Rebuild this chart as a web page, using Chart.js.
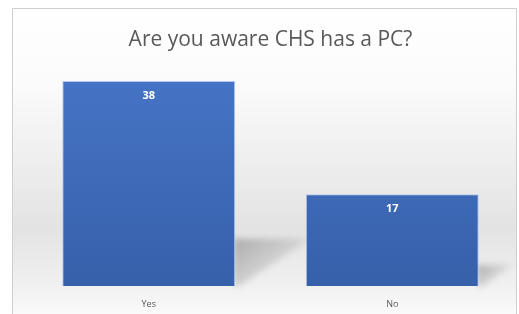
<!DOCTYPE html>
<html>
<head>
<meta charset="utf-8">
<script src="https://cdn.jsdelivr.net/npm/chart.js@4.4.0/dist/chart.umd.min.js"></script>
<style>
  html, body { margin: 0; padding: 0; background: #fff; }
  #wrap { width: 519px; height: 314px; }
</style>
</head>
<body>
<div id="wrap"><canvas id="chart"></canvas></div>
<script>
// survey answers
const answers = ["Yes", "No"];
const counts  = [38, 17];
const chartTitle = "Are you aware CHS has a PC?";

// framed panel with soft grey gradient, like the Excel chart area
const panelBg = {
    id: "panelBg",
    beforeDraw(chart) {
        const ctx = chart.ctx;
        const h = chart.height;
        ctx.save();
        ctx.fillStyle = "#fff";
        ctx.fillRect(0, 0, chart.width, h);
        const g = ctx.createLinearGradient(0, 8, 0, h);
        g.addColorStop(0, "#ffffff");
        g.addColorStop(0.25, "#fbfbfb");
        g.addColorStop(0.72, "#e3e3e3");
        g.addColorStop(0.9, "#f0f0f0");
        g.addColorStop(1, "#fafafa");
        ctx.fillStyle = g;
        ctx.fillRect(12, 8, chart.width - 15, h - 8);
        ctx.strokeStyle = "#cfcfcf";
        ctx.lineWidth = 1;
        ctx.beginPath();
        ctx.moveTo(12.5, h);
        ctx.lineTo(12.5, 8.5);
        ctx.lineTo(chart.width - 2.5, 8.5);
        ctx.lineTo(chart.width - 2.5, h);
        ctx.stroke();
        ctx.restore();
    }
};

// perspective shadow cast to the right of each bar
const barShadow = {
    id: "barShadow",
    beforeDatasetsDraw(chart) {
        const ctx = chart.ctx;
        chart.getDatasetMeta(0).data.forEach(bar => {
            const right = bar.x + bar.width / 2;
            const sh = (bar.base - bar.y) * 0.23;
            ctx.save();
            ctx.filter = "blur(3px)";
            const g = ctx.createLinearGradient(right, bar.base - sh, right + sh, bar.base);
            g.addColorStop(0, "rgba(90,90,90,0.4)");
            g.addColorStop(1, "rgba(90,90,90,0.05)");
            ctx.fillStyle = g;
            ctx.beginPath();
            ctx.moveTo(right - 2, bar.base - sh);
            ctx.lineTo(right + sh * 1.6, bar.base - sh);
            ctx.lineTo(right + 4, bar.base);
            ctx.lineTo(right - 2, bar.base);
            ctx.closePath();
            ctx.fill();
            ctx.restore();
        });
    }
};

// white value labels just inside the top of each bar
const valueLabels = {
    id: "valueLabels",
    afterDatasetsDraw(chart) {
        const ctx = chart.ctx;
        const ds = chart.data.datasets[0];
        ctx.save();
        ctx.fillStyle = "#ffffff";
        ctx.font = "bold 11px 'Open Sans'";
        ctx.textAlign = "center";
        ctx.textBaseline = "middle";
        chart.getDatasetMeta(0).data.forEach((bar, i) => {
            ctx.fillText(ds.data[i], bar.x, bar.y + 15);
        });
        ctx.restore();
    }
};

new Chart(document.getElementById("chart"), {
    type: "bar",
    data: {
        labels: answers,
        datasets: [{
            data: counts,
            backgroundColor: ctx => {
                const area = ctx.chart.chartArea;
                if (!area) return "#4472c4";
                const g = ctx.chart.ctx.createLinearGradient(0, area.top, 0, area.bottom);
                g.addColorStop(0, "#4674c6");
                g.addColorStop(1, "#3760aa");
                return g;
            },
            borderColor: "rgba(170,195,235,0.9)",
            borderWidth: 1,
            barPercentage: 0.71,
            categoryPercentage: 1.0
        }]
    },
    options: {
        responsive: true,
        maintainAspectRatio: false,
        animation: false,
        layout: { padding: { left: 27, right: 5, top: 0, bottom: 0 } },
        plugins: {
            legend: { display: false },
            tooltip: { enabled: false },
            title: {
                display: true,
                text: chartTitle,
                color: "#595959",
                font: { family: "'Open Sans'", size: 21, weight: "normal" },
                padding: { top: 27, bottom: 18 }
            }
        },
        scales: {
            x: {
                grid: { display: false, drawTicks: false },
                border: { display: false },
                ticks: {
                    color: "#595959",
                    font: { family: "'Open Sans'", size: 9 },
                    padding: 13
                },
                afterFit: scale => { scale.height = 28; }
            },
            y: {
                display: false,
                min: 0,
                max: 40
            }
        }
    },
    plugins: [panelBg, barShadow, valueLabels]
});
</script>
</body>
</html>
